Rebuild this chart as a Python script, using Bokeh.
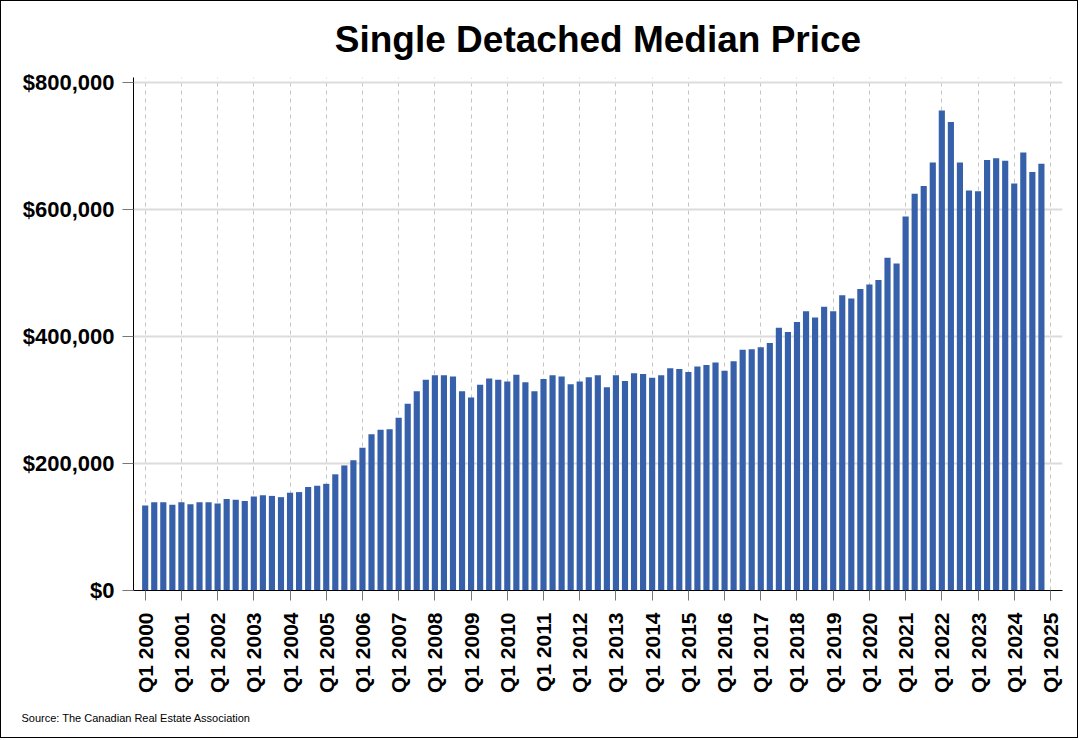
import math
from bokeh.plotting import figure
from bokeh.models import Range1d, FixedTicker, NumeralTickFormatter, Title
from bokeh.embed import file_html
from bokeh.resources import INLINE

# Quarterly median prices, Q1 2000 .. Q4 2024
start_year = 2000
prices = [
    134000, 139000, 139000, 135000, 139000, 136000, 139000, 139000,
    137000, 144000, 143000, 141000, 148000, 150000, 149000, 147000,
    154000, 155000, 163000, 165000, 168000, 183000, 197000, 205000,
    225000, 246000, 253000, 254000, 272000, 294000, 314000, 332000,
    339000, 339000, 337000, 314000, 304000, 324000, 334000, 332000,
    329000, 340000, 328000, 314000, 333000, 339000, 337000, 325000,
    329000, 336000, 339000, 320000, 339000, 330000, 342000, 341000,
    335000, 339000, 350000, 349000, 344000, 353000, 355000, 359000,
    346000, 361000, 379000, 380000, 383000, 390000, 414000, 407000,
    423000, 440000, 430000, 447000, 440000, 465000, 460000, 475000,
    482000, 489000, 524000, 515000, 589000, 625000, 637000, 674000,
    756000, 738000, 674000, 630000, 629000, 678000, 681000, 677000,
    641000, 690000, 659000, 672000,
]
quarter_index = list(range(len(prices)))
tick_positions = list(range(0, 101, 4))
tick_labels = ["Q1 %d" % (start_year + t // 4) for t in tick_positions]
y_ticks = [0, 200000, 400000, 600000, 800000]

title_text = "Single Detached Median Price"
source_text = "Source: The Canadian Real Estate Association"

FONT = "Liberation Sans"

x0 = -1.292
x1 = 101.33
p = figure(
    width=1078, height=738,
    x_range=Range1d(x0, x1), y_range=Range1d(0, 808000),
    output_backend="svg", toolbar_location=None,
    min_border_left=132, min_border_right=17,
    min_border_top=76, min_border_bottom=149,
    background_fill_color="white", border_fill_color="white",
    outline_line_color=None,
    styles={"border": "1px solid black"},
)

p.title.text = title_text
p.title.align = "center"
p.title.vertical_align = "top"
p.title.text_font = FONT
p.title.text_font_style = "bold"
p.title.text_font_size = "37px"
p.title.text_color = "black"
p.title.standoff = 32

p.vbar(x=quarter_index, top=prices, width=0.68,
       fill_color="#3660a9", line_color=None)

# x axis
p.xaxis.ticker = FixedTicker(ticks=tick_positions)
p.xaxis.major_label_overrides = dict(zip(tick_positions, tick_labels))
p.xaxis.major_label_orientation = math.pi / 2
p.xaxis.major_label_text_font = FONT
p.xaxis.major_label_text_font_style = "bold"
p.xaxis.major_label_text_font_size = "21px"
p.xaxis.major_label_text_color = "black"
p.xaxis.major_label_standoff = 12
p.xaxis.major_tick_out = 10
p.xaxis.major_tick_in = 0
p.xaxis.major_tick_line_color = "#777777"
p.xaxis.minor_tick_line_color = None
p.xaxis.axis_line_color = "black"

# y axis
p.yaxis.ticker = FixedTicker(ticks=y_ticks)
p.yaxis.formatter = NumeralTickFormatter(format="$0,0")
p.yaxis.major_label_text_font = FONT
p.yaxis.major_label_text_font_style = "bold"
p.yaxis.major_label_text_font_size = "22px"
p.yaxis.major_label_text_color = "black"
p.yaxis.major_label_standoff = 8
p.yaxis.major_tick_out = 11
p.yaxis.major_tick_in = 0
p.yaxis.major_tick_line_color = "#777777"
p.yaxis.minor_tick_line_color = None
p.yaxis.axis_line_color = "black"

# grids
p.xgrid.grid_line_color = "#c4c4c4"
p.xgrid.grid_line_dash = "4 4"
p.xgrid.grid_line_width = 1
p.ygrid.grid_line_color = "#dcdcdc"
p.ygrid.grid_line_width = 2

# source note below the axis
source = Title(text=source_text, align="left", offset=-112,
               text_font=FONT, text_font_style="normal",
               text_font_size="11px", text_color="black", standoff=26)
p.add_layout(source, "below")

open("out.html", "w").write(file_html(p, INLINE))
